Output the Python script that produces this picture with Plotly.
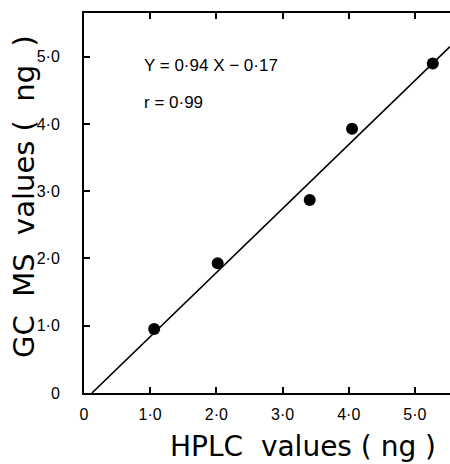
import plotly.graph_objects as go

# data
hplc = [1.06, 2.02, 3.41, 4.05, 5.27]
gcms = [0.95, 1.93, 2.87, 3.93, 4.90]
fit_x = [0.12, 5.53]
fit_y = [0.0, 5.15]
tick_vals = [0, 1, 2, 3, 4, 5]
tick_text = ["0", "1·0", "2·0", "3·0", "4·0", "5·0"]
equation = "Y = 0·94 X − 0·17"
corr = "r = 0·99"

fig = go.Figure()
fig.add_trace(go.Scatter(x=fit_x, y=fit_y, mode="lines",
                         line=dict(color="black", width=1.6), hoverinfo="skip"))
fig.add_trace(go.Scatter(x=hplc, y=gcms, mode="markers",
                         marker=dict(color="black", size=12)))

tickfont = dict(family="Liberation Sans, Arial", size=16, color="black")
L, T, W, H = 84, 13, 366, 380


def px(x, y):
    return (x - L) / W, 1 - (y - T) / H


def ann(text, x, y, size, family, anchor="left", angle=0):
    ax, ay = px(x, y)
    return dict(x=ax, y=ay, xref="paper", yref="paper", text=text, showarrow=False,
                xanchor=anchor, yanchor="middle", textangle=angle,
                font=dict(family=family, size=size, color="black"))


fig.update_layout(
    width=450, height=464,
    margin=dict(l=L, r=450 - L - W, t=T, b=464 - T - H),
    paper_bgcolor="white", plot_bgcolor="white",
    showlegend=False,
    xaxis=dict(range=[0, 5.53], tickvals=tick_vals, ticktext=tick_text,
               showgrid=False, zeroline=False, showline=True, linecolor="black",
               linewidth=2, mirror="ticks", ticks="inside", ticklen=6,
               tickwidth=1.5, tickcolor="black", tickfont=tickfont,
               ticklabelstandoff=6),
    yaxis=dict(range=[0, 5.65], tickvals=tick_vals, ticktext=tick_text,
               showgrid=False, zeroline=False, showline=True, linecolor="black",
               linewidth=2, ticks="inside", ticklen=6, tickwidth=1.5,
               tickcolor="black", ticklabelstandoff=19, tickfont=tickfont),
    annotations=[
        ann(equation, 142, 65, 17, "Liberation Sans, Arial"),
        ann(corr, 142, 103, 17, "Liberation Sans, Arial"),
        ann("HPLC  values ( ng )", 303, 446, 28, "DejaVu Sans", anchor="center"),
        ann("GC  MS  values (  ng  )", 24, 197, 29, "DejaVu Sans", anchor="center", angle=-90),
    ],
)

fig.write_html(
    "out.html",
    config={"displayModeBar": False},
    post_script="document.body.style.margin='0';document.body.style.overflow='hidden';",
)
